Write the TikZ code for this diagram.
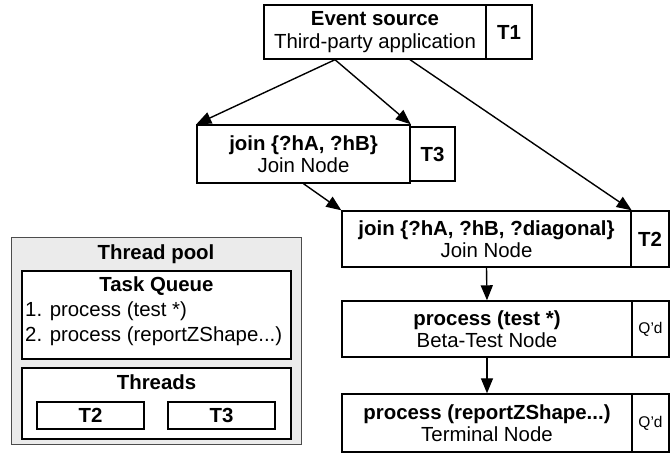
\documentclass[tikz,border=0pt]{standalone}
\usepackage{fontspec}
\setmainfont{Liberation Sans}
\usetikzlibrary{arrows.meta}
\tikzset{
  rnode/.style={draw, line width=1.4pt, align=center, inner sep=0pt,
    font=\fontsize{20.4}{22.5}\selectfont},
  tag/.style={rnode, font=\fontsize{20.4}{22.5}\selectfont\bfseries},
  qtag/.style={rnode, font=\fontsize{15.5}{18}\selectfont},
  link/.style={line width=1.4pt, -{Triangle[length=15pt,width=12pt]}},
  label/.style={inner sep=0pt, font=\fontsize{20.4}{22.5}\selectfont},
}
\begin{document}
\begin{tikzpicture}[x=1pt,y=-1pt]
      \useasboundingbox (0,0) rectangle (670,454);
      % rete nodes
      \draw
        (375,32) node[rnode, minimum width=222, minimum height=54] (event)
          {\textbf{Event source}\\Third-party application}
        (509,32) node[tag, minimum width=46, minimum height=54] (t1) {T1}
        (303.5,154) node[rnode, minimum width=213, minimum height=58] (join1)
          {\textbf{join \{?hA, ?hB\}}\\Join Node}
        (432.5,154) node[tag, minimum width=45, minimum height=54] (t3) {T3}
        (486.5,239) node[rnode, minimum width=289, minimum height=56] (join2)
          {\textbf{join \{?hA, ?hB, ?diagonal\}}\\Join Node}
        (650,239) node[tag, minimum width=38, minimum height=56] (t2) {T2}
        (487,329) node[rnode, minimum width=290, minimum height=56] (beta)
          {\textbf{process (test *)}\\Beta-Test Node}
        (650.5,329) node[qtag, minimum width=37, minimum height=56] (q1) {Q'd}
        (487,423) node[rnode, minimum width=290, minimum height=58] (term)
          {\textbf{process (reportZShape...)}\\Terminal Node}
        (650.5,423) node[qtag, minimum width=37, minimum height=58] (q2) {Q'd};
      \begin{scope}[link]
        \draw ([xshift=-40]event.south) to (join1.north west);
        \draw ([xshift=-40]event.south) to (join1.north east);
        \draw ([xshift=35]event.south) to (join2.north east);
        \draw (join1.south) to (join2.north west);
        \draw (join2.south) to (beta.north);
        \draw (beta.south) to (term.north);
      \end{scope}
      % thread pool
      \draw
        (156,341.5) node[draw=black!70, line width=1pt, fill=black!8,
          minimum width=290, minimum height=207] (pool) {}
        (156.5,315) node[rnode, fill=white, minimum width=269, minimum height=88] (queue) {}
        (156.5,403.5) node[rnode, fill=white, minimum width=269, minimum height=71] (threads) {}
        (90.5,415.5) node[tag, minimum width=107, minimum height=27] (pt2) {T2}
        (221.5,415.5) node[tag, minimum width=107, minimum height=27] (pt3) {T3};
      \node[label, anchor=base, font=\fontsize{20.4}{22.5}\selectfont\bfseries] (pooltitle)
        at (156,260) {Thread pool};
      \node[label, anchor=base, font=\fontsize{20.4}{22.5}\selectfont\bfseries] (queuetitle)
        at (156.5,292) {Task Queue};
      \node[label, anchor=base west] (task1) at (25,317) {1. process (test *)};
      \node[label, anchor=base west] (task2) at (25,342) {2. process (reportZShape...)};
      \node[label, anchor=base, font=\fontsize{20.4}{22.5}\selectfont\bfseries] (threadstitle)
        at (156.5,390) {Threads};
    \end{tikzpicture}
\end{document}
